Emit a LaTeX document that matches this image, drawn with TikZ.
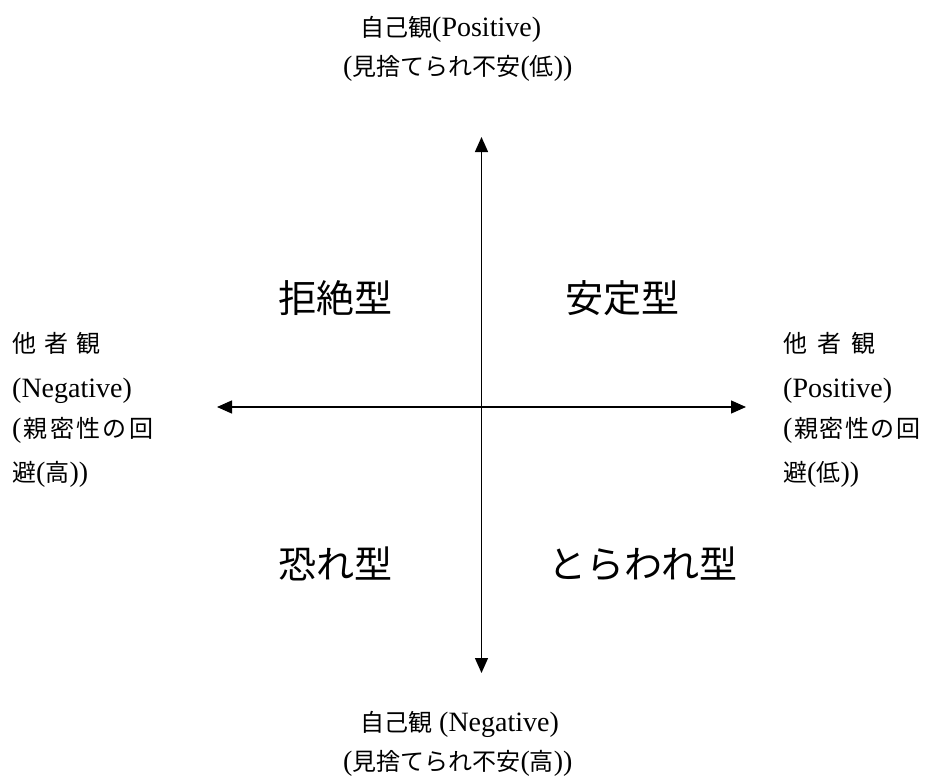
\documentclass[tikz,border=0pt]{standalone}
\usepackage{fontspec}
\setmainfont{Liberation Serif}
\newfontfamily\jp{Noto Sans CJK JP}
\usetikzlibrary{arrows.meta}
\newcommand\J[1]{{\fontsize{24}{28}\selectfont\jp #1}}
\newcommand\Q[1]{{\fontsize{38}{44}\selectfont\jp #1}}
\begin{document}
\begin{tikzpicture}[x=1pt,y=-1pt,
  lbl/.style={inner sep=0pt,anchor=west,font=\fontsize{28}{32}\selectfont,text height=18pt,text depth=6pt},
  quad/.style={inner sep=0pt,anchor=center},
  axis/.style={line width=1.4pt,{Triangle[length=15pt,width=13pt]}-{Triangle[length=15pt,width=13pt]}}]
\useasboundingbox (0,0) rectangle (932,776);
\fill[white] (0,0) rectangle (932,776);
\coordinate (top) at (481.5,137);
\coordinate (bot) at (481.5,673);
\coordinate (lft) at (217,407);
\coordinate (rgt) at (746,407);
\draw[axis] (bot) -- (top);
\draw[axis] (lft) -- (rgt);
% top labels
\node[lbl] (t1) at (360,31) {\J{自己観}(Positive)};
\node[lbl] (t2) at (343,70) {(\J{見捨てられ不安}(\J{低}))};
% bottom labels
\node[lbl] (b1) at (360,725) {\J{自己観} (Negative)};
\node[lbl] (b2) at (343,764) {(\J{見捨てられ不安}(\J{高}))};
% left labels
\node[lbl] (l1) at (12,346) {\makebox[88pt][s]{\J{他}\hfill\J{者}\hfill\J{観}}};
\node[lbl] (l2) at (12,391) {(Negative)};
\node[lbl] (l3) at (12,431) {\makebox[141pt][s]{(\hfill\J{親}\hfill\J{密}\hfill\J{性}\hfill\J{の}\hfill\J{回}}};
\node[lbl] (l4) at (12,475) {\J{避}(\J{高}))};
% right labels
\node[lbl] (r1) at (783,346) {\makebox[92pt][s]{\J{他}\hfill\J{者}\hfill\J{観}}};
\node[lbl] (r2) at (783,391) {(Positive)};
\node[lbl] (r3) at (783,431) {\makebox[137pt][s]{(\hfill\J{親}\hfill\J{密}\hfill\J{性}\hfill\J{の}\hfill\J{回}}};
\node[lbl] (r4) at (783,475) {\J{避}(\J{低}))};
% quadrant labels
\node[quad] (q1) at (335,298) {\Q{拒絶型}};
\node[quad] (q2) at (622,298) {\Q{安定型}};
\node[quad] (q3) at (335,564) {\Q{恐れ型}};
\node[quad] (q4) at (643,564) {\Q{とらわれ型}};
\end{tikzpicture}
\end{document}
